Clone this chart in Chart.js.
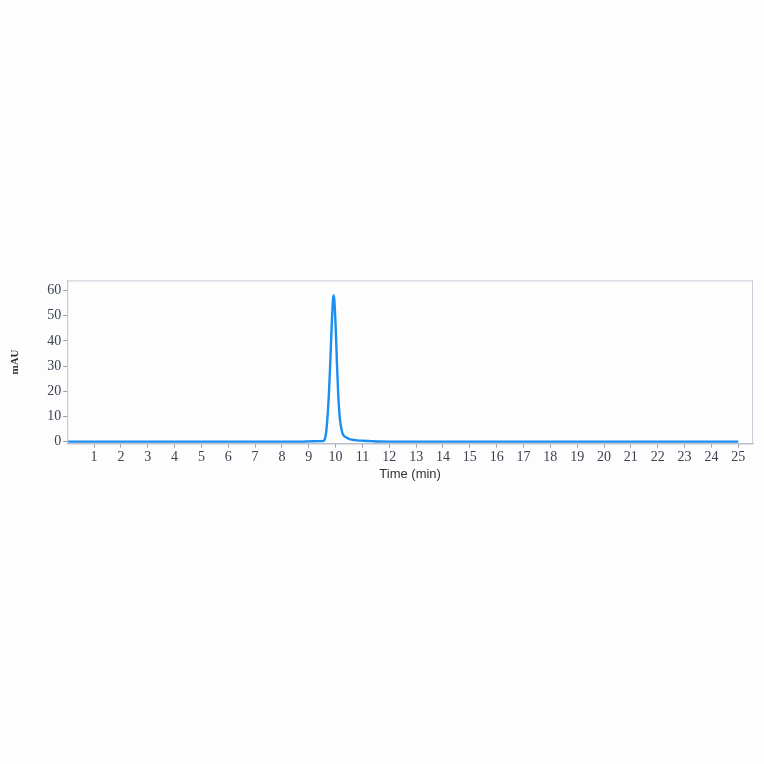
<!DOCTYPE html>
<html>
<head>
<meta charset="utf-8">
<script src="https://cdn.jsdelivr.net/npm/chart.js@4.4.1/dist/chart.umd.min.js"></script>
<style>
  html, body { margin: 0; padding: 0; background: #fdfdfd; }
  #wrap { position: absolute; left: 0; top: 270px; width: 764px; height: 215px; }
</style>
</head>
<body>
<div id="wrap"><canvas id="chart1"></canvas></div>
<script>
// retention time (min) and absorbance (mAU)
var times = [0, 8.8, 9.0, 9.5, 9.55, 9.6, 9.65, 9.7, 9.75, 9.8, 9.85, 9.9, 9.92, 9.95,
    10.0, 10.05, 10.1, 10.15, 10.2, 10.25, 10.3, 10.4, 10.5, 10.6, 10.8, 11.0, 11.3, 11.6, 12, 25];
var mAU = [0, 0, 0.1, 0.2, 0.3, 1.0, 4, 10, 19, 31, 45, 56, 58, 56.5,
    46, 31, 18, 10, 6, 3.5, 2.4, 1.6, 1.1, 0.8, 0.5, 0.35, 0.2, 0.05, 0, 0];
var xTicks = [1, 2, 3, 4, 5, 6, 7, 8, 9, 10, 11, 12, 13, 14, 15, 16, 17, 18, 19, 20, 21, 22, 23, 24, 25];
var yTicks = [0, 10, 20, 30, 40, 50, 60];

var points = times.map(function (t, i) { return { x: t, y: mAU[i] }; });

// light frame round the plot area
var frame = {
    id: 'frame',
    afterDraw: function (chart) {
        var a = chart.chartArea, ctx = chart.ctx;
        ctx.save();
        ctx.strokeStyle = '#c9cbd8';
        ctx.lineWidth = 1;
        ctx.strokeRect(a.left + 0.5, a.top + 0.5, a.right - a.left - 1, a.bottom - a.top);
        ctx.restore();
    }
};

new Chart('chart1', {
    type: 'line',
    data: {
        datasets: [{
            data: points,
            borderColor: '#1b8ef0',
            borderWidth: 2.4,
            pointRadius: 0,
            cubicInterpolationMode: 'monotone',
            fill: false
        }]
    },
    options: {
        responsive: true,
        maintainAspectRatio: false,
        animation: false,
        layout: { padding: { left: 9, right: 11, top: 10, bottom: 3 } },
        plugins: { legend: { display: false }, tooltip: { enabled: false } },
        scales: {
            x: {
                type: 'linear',
                min: 0,
                max: 25.55,
                afterBuildTicks: function (s) { s.ticks = xTicks.map(function (v) { return { value: v }; }); },
                grid: { drawOnChartArea: false, drawTicks: true, tickLength: 4, color: '#9a9caa' },
                border: { display: true, color: '#b5b8c6' },
                ticks: {
                    autoSkip: false,
                    maxRotation: 0,
                    padding: 1,
                    color: '#3b4152',
                    font: { family: 'Liberation Serif', size: 14 }
                },
                title: {
                    display: true,
                    text: 'Time (min)',
                    color: '#333',
                    padding: { top: 0, bottom: 0 },
                    font: { family: 'Liberation Sans', size: 13 }
                }
            },
            y: {
                min: -0.8,
                max: 64,
                afterBuildTicks: function (s) { s.ticks = yTicks.map(function (v) { return { value: v }; }); },
                grid: { drawOnChartArea: false, drawTicks: true, tickLength: 4, color: '#9a9caa' },
                border: { display: true, color: '#b5b8c6' },
                ticks: {
                    padding: 2,
                    color: '#3b4152',
                    font: { family: 'Liberation Serif', size: 14 }
                },
                title: {
                    display: true,
                    text: 'mAU',
                    color: '#333',
                    padding: { top: 0, bottom: 23 },
                    font: { family: 'Liberation Serif', size: 11, weight: 'bold' }
                }
            }
        }
    },
    plugins: [frame]
});
</script>
</body>
</html>
